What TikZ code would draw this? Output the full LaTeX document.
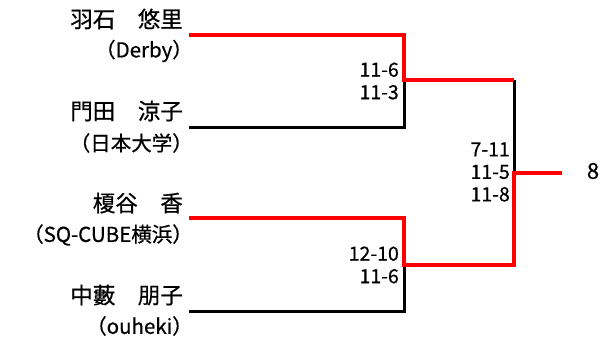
\documentclass[tikz,border=0pt]{standalone}
\usepackage{fontspec}
\setmainfont{Noto Sans CJK JP}[UprightFeatures={FakeBold=0.6}]
\usetikzlibrary{positioning}

\begin{document}
\begin{tikzpicture}[x=1pt,y=-1pt,
  lose/.style={line width=3pt,black},
  win/.style={line width=4pt,red},
  player/.style={anchor=east,inner sep=0pt,font=\fontsize{22.5}{24}\selectfont},
  club/.style={anchor=east,inner sep=0pt,font=\fontsize{20.5}{22}\selectfont},
  score/.style={anchor=east,align=right,inner sep=0pt,font=\fontsize{19.5}{22.5}\selectfont}]
  \useasboundingbox (0,0) rectangle (603,343);

  % line ends
  \coordinate (a) at (189,35);
  \coordinate (b) at (189,127);
  \coordinate (c) at (189,218);
  \coordinate (d) at (189,311);
  \coordinate (ab) at (404,80);
  \coordinate (cd) at (404,265);
  \coordinate (f) at (514,173);
  \coordinate (w) at (562,173);

  % players
  \node[player] (p1) at (183,19) {羽石　悠里};
  \node[club] (c1) at (193,51) {（Derby）};
  \node[player] (p2) at (183,111) {門田　涼子};
  \node[club] (c2) at (193,143) {（日本大学）};
  \node[player] (p3) at (183,203) {榎谷　香};
  \node[club] (c3) at (193,235) {（SQ-CUBE横浜）};
  \node[player] (p4) at (183,295) {中藪　朋子};
  \node[club] (c4) at (193,326) {（ouheki）};

  % scores
  \node[score] (s1) at (399,81) {11-6\\11-3};
  \node[score] (s2) at (399,265) {12-10\\11-6};
  \node[score] (s3) at (510,172) {7-11\\11-5\\11-8};
  \node[inner sep=0pt,font=\fontsize{22}{24}\selectfont] (res) at (593,171) {8};

  % losers
  \draw[lose] (b) -| (ab);
  \draw[lose] (d) -| (cd);
  \draw[lose] (ab -| f) -- (f);

  % winners
  \draw[win] (a) -| (ab) -- (ab -| f);
  \draw[win] (c) -| (cd) -| (f) -- (w);
\end{tikzpicture}
\end{document}
